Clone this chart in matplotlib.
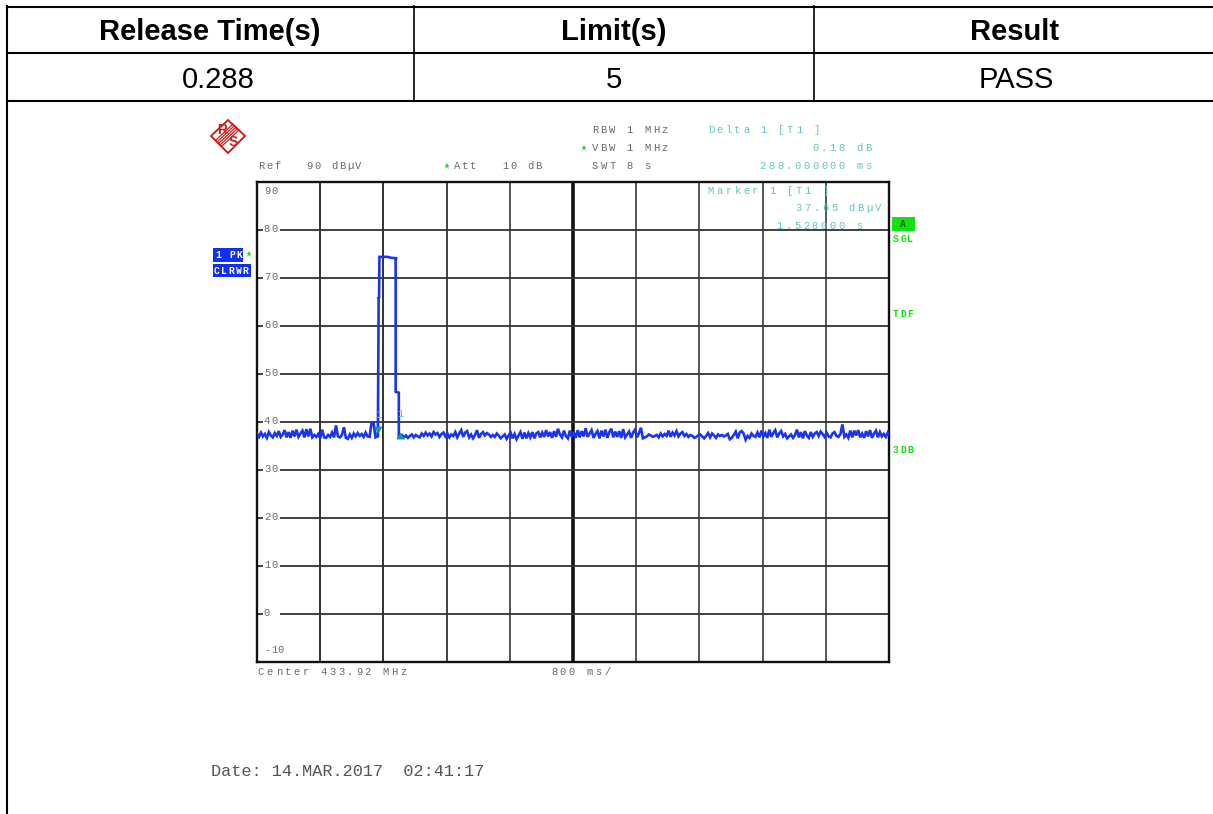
# -*- coding: utf-8 -*-
import numpy as np
import matplotlib
matplotlib.use("Agg")
import matplotlib.pyplot as plt
from matplotlib.patches import Polygon, Rectangle

# table
headers = ["Release Time(s)", "Limit(s)", "Result"]
row = ["0.288", "5", "PASS"]

# analyser trace, dBuV, one value every 25 ms
noise_left = [
    37.6, 36.9, 37.8, 37.0, 37.5, 36.7, 37.9, 37.2, 36.8, 37.7,
    37.1, 38.1, 36.9, 37.4, 38.3, 36.8, 37.9, 36.7, 38.2, 37.0,
    38.4, 36.9, 37.6, 38.2, 36.8, 38.5, 37.0, 38.6, 36.8, 37.3,
    36.9, 37.5, 36.6, 38.4, 36.8, 36.7, 37.3, 36.9, 37.8, 36.8,
    39.3, 37.0, 36.8, 37.3, 38.9, 36.7, 36.5, 37.4, 36.7, 37.6,
    37.0, 37.7, 37.1, 37.5, 36.9, 37.8, 37.0, 36.9, 39.9, 39.9,
    36.8,
]
spike_t = [1.53, 1.54, 1.545, 1.55, 1.65, 1.70, 1.775, 1.755, 1.755, 1.795, 1.795]
spike_db = [37.0, 66.0, 65.8, 74.4, 74.4, 74.2, 74.1, 74.1, 46.3, 46.1, 36.9]
noise_right = [
    36.9, 37.3, 36.8, 37.2, 36.7, 37.1, 37.4, 36.8, 37.3, 37.0,
    36.8, 37.6, 37.1, 37.8, 37.2, 37.6, 37.0, 37.9, 37.4, 37.7,
    36.9, 37.5, 37.8, 37.0, 37.6, 36.8, 37.4, 37.1, 37.9, 36.8,
    37.6, 38.3, 36.9, 37.8, 38.1, 36.8, 37.4, 36.6, 37.3, 38.3,
    36.7, 37.5, 37.9, 37.2, 37.7, 37.4, 36.9, 37.3, 36.9, 37.6,
    37.2, 36.6, 37.0, 37.4, 36.5, 37.2, 37.8, 36.6, 37.5, 36.4,
    37.2, 37.9, 36.5, 37.8, 36.6, 37.7, 36.8, 37.9, 36.6, 37.6,
    37.9, 36.8, 37.8, 36.9, 38.3, 37.0, 37.9, 36.7, 38.1, 36.9,
    38.6, 37.4, 36.8, 38.2, 37.1, 36.6, 38.2, 36.9, 37.9, 36.7,
    38.3, 36.8, 38.1, 37.0, 38.7, 36.9, 37.6, 38.3, 36.7, 37.5,
    38.1, 36.6, 38.2, 37.0, 38.4, 36.7, 37.9, 38.6, 36.8, 38.0,
    36.9, 38.1, 36.7, 38.5, 36.8, 37.4, 38.0, 36.7, 37.8, 38.4,
    36.8, 37.7, 38.8, 36.6, 36.8, 37.0, 37.4, 37.2, 36.9, 37.1,
    37.3, 36.8, 37.6, 37.0, 37.5, 37.1, 38.2, 36.9, 37.8, 37.2,
    38.1, 37.0, 37.6, 37.9, 37.1, 37.5, 36.9, 37.3, 37.1, 36.7,
    36.9, 37.2, 37.4, 37.0, 36.6, 37.1, 37.7, 36.8, 37.6, 37.2,
    36.7, 37.4, 37.1, 37.3, 37.0, 37.2, 37.5, 36.4, 36.7, 37.3,
    38.0, 36.6, 37.8, 38.1, 37.6, 36.3, 37.1, 36.7, 37.6, 37.1,
    36.9, 37.8, 36.8, 38.2, 37.0, 37.7, 36.7, 38.4, 36.9, 37.7,
    38.3, 36.8, 37.6, 38.1, 37.0, 37.5, 36.6, 37.0, 37.4, 36.7,
    37.3, 38.4, 36.8, 37.9, 36.6, 38.1, 37.2, 36.7, 37.9, 36.9,
    37.6, 37.9, 37.1, 38.0, 37.5, 36.9, 37.8, 37.0, 36.8, 37.6,
    37.9, 37.1, 36.9, 37.5, 39.5, 36.9, 37.4, 36.7, 38.2, 36.8,
    38.2, 37.2, 38.3, 36.8, 37.6, 36.7, 38.1, 37.0, 38.3, 36.7,
    37.6, 38.2, 36.8, 37.9, 37.0, 37.5, 36.9, 37.8, 37.1, 37.6,
]
marker_t = [1.528, 1.816]
marker_db = [37.65, 37.83]

levels = [80, 70, 60, 50, 40, 30, 20, 10, 0]
divisions = [0.8, 1.6, 2.4, 3.2, 4.8, 5.6, 6.4, 7.2]
div_colors = ["#222222", "#222222", "#333333", "#444444", "#4a4a4a", "#4a4a4a", "#4a4a4a", "#4a4a4a"]

GRAY = "#6a6a6a"
TEAL = "#66c4c0"
GREEN = "#12e012"
BLUE = "#1030f0"
TRACE = "#1a35f2"
MONO = "Liberation Mono"

fig = plt.figure(figsize=(12.13, 8.14), dpi=100)
ax = fig.add_axes([257 / 1213, 1 - 662 / 814, 632 / 1213, 480 / 814])
ax.set_xlim(0, 8)
ax.set_ylim(-10, 90)
ax.set_xticks([])
ax.set_yticks([])
for s in ax.spines.values():
    s.set_linewidth(1.7)
    s.set_color("#111111")

for d, c in zip(divisions, div_colors):
    ax.axvline(d, color=c, lw=1.3, zorder=1)
ax.axvline(4.0, color="#111111", lw=2.6, zorder=1)
for lev in levels:
    ax.hlines(lev, 0.29, 8, color="#333333", lw=1.3, zorder=1)
    ax.hlines(lev, 0.0, 0.07, color="#333333", lw=1.3, zorder=1)

t_left = np.arange(len(noise_left)) * 0.025
t_right = 1.81 + np.arange(len(noise_right)) * 0.025
ax.plot(np.concatenate([t_left, spike_t, t_right]),
        noise_left + spike_db + noise_right,
        color=TRACE, lw=1.9, zorder=3, solid_joinstyle="miter", clip_on=True)

# marker triangles with the tip sitting on the level
ax.plot(marker_t[0], marker_db[0], marker=[(-0.6, 1), (0.6, 1), (0, 0)], ms=10,
        color="#109a90", mew=0, zorder=4, ls="none")
ax.plot(marker_t[1], marker_db[1], marker=[(-0.6, -1), (0.6, -1), (0, 0)], ms=10,
        color="#109a90", mew=0, zorder=4, ls="none")

# overlay in screen pixels for the table and the instrument texts
ov = fig.add_axes([0, 0, 1, 1], zorder=5)
ov.set_xlim(0, 1213)
ov.set_ylim(814, 0)
ov.axis("off")


def spaced(x, y, s, pitch=8.5, color=GRAY, size=7.6, weight="normal", right=False):
    # the analyser font is letter spaced, so place it one char at a time
    if right:
        x = x - pitch * (len(s) - 1) - 9
    for i, ch in enumerate(s):
        if ch != " ":
            ov.text(x + i * pitch + 3, y, ch, family=MONO, fontsize=size, color=color,
                    ha="center", va="center", weight=weight)


# table rules
ov.plot([6.7, 1213], [6.7, 6.7], color="black", lw=1.5)
ov.plot([6.7, 1213], [53, 53], color="black", lw=1.5)
ov.plot([6.7, 1213], [100.5, 100.5], color="black", lw=1.5)
ov.plot([7, 7], [6, 814], color="black", lw=1.5)
ov.plot([414, 414], [6, 100], color="black", lw=1.2)
ov.plot([814, 814], [6, 100], color="black", lw=1.2)
for cx, cv, head, val in zip([210, 614, 1015], [218, 614, 1016], headers, row):
    ov.text(cx, 31.5, head, family="Liberation Sans", weight="bold", fontsize=21,
            ha="center", va="center", color="black")
    ov.text(cv, 79.5, val, family="Liberation Sans", fontsize=21,
            ha="center", va="center", color="black")

# R&S logo
RED = "#cc1f1f"
ov.add_patch(Polygon([(228, 120), (245, 136), (228, 153), (211, 136)], closed=True,
                     fill=False, edgecolor=RED, lw=1.4))
for off in [-3, -1.5, 0, 1.5, 3]:
    ov.plot([236 + off, 219 + off], [127 + off, 143 + off], color=RED, lw=0.9)
ov.text(222, 130, "R", family="Liberation Sans", weight="bold", fontsize=10, color=RED,
        ha="center", va="center")
ov.text(233, 142, "S", family="Liberation Sans", weight="bold", fontsize=10, color=RED,
        ha="center", va="center")

# header texts
spaced(258, 166, "Ref   90 dB\u00b5V", pitch=8.1)
spaced(454, 166, "Att   10 dB", pitch=8.1)
spaced(592, 130, "RBW 1 MHz", pitch=8.7)
spaced(592, 148, "VBW 1 MHz", pitch=8.7)
spaced(592, 166, "SWT 8 s", pitch=8.7)
spaced(708, 130, "Delta 1 [T1 ]", pitch=8.8, color=TEAL)
spaced(874, 148, "0.18 dB", pitch=8.8, color=TEAL, right=True)
spaced(874, 166, "288.000000 ms", pitch=8.8, color=TEAL, right=True)
spaced(708, 191, "Marker 1 [T1 ]", pitch=8.8, color=TEAL)
spaced(884, 208, "37.65 dB\u00b5V", pitch=8.8, color=TEAL, right=True)
spaced(865, 226, "1.528000 s", pitch=8.8, color=TEAL, right=True)
spaced(258, 672, "Center 433.92 MHz", pitch=8.9)
spaced(551, 672, "800 ms/", pitch=8.9)

for gx, gy in [(447, 166), (584, 148), (249, 254)]:
    ov.plot(gx, gy, marker="*", ms=4.5, color=GREEN, mew=0)

# level labels
for lev in levels:
    spaced(264, 182 + (90 - lev) * 4.8 - 1, str(lev), pitch=7)
spaced(264, 191, "90", pitch=7)
spaced(264, 650, "-10", pitch=7)

# marker numbers
spaced(375, 415, "1", color=TEAL)
spaced(397, 414, "1", color=TEAL)

# side boxes
ov.add_patch(Rectangle((213, 248), 30, 14, color=BLUE, lw=0))
ov.add_patch(Rectangle((213, 264), 38, 13, color=BLUE, lw=0))
spaced(215, 255, "1 PK", pitch=7, color="white", size=7, weight="bold")
spaced(214, 271, "CLRWR", pitch=7.2, color="white", size=7, weight="bold")
ov.add_patch(Rectangle((892, 217), 23, 14, color=GREEN, lw=0))
spaced(900, 224, "A", color="#0a6a0a", size=7, weight="bold")
spaced(893, 239, "SGL", pitch=7.2, color=GREEN, size=7, weight="bold")
spaced(893, 314, "TDF", pitch=7.2, color=GREEN, size=7, weight="bold")
spaced(893, 450, "3DB", pitch=7.2, color=GREEN, size=7, weight="bold")

ov.text(211, 771, "Date: 14.MAR.2017  02:41:17", family=MONO, fontsize=12.2,
        color="#555555", ha="left", va="center")

fig.savefig("out.png", dpi=100)
